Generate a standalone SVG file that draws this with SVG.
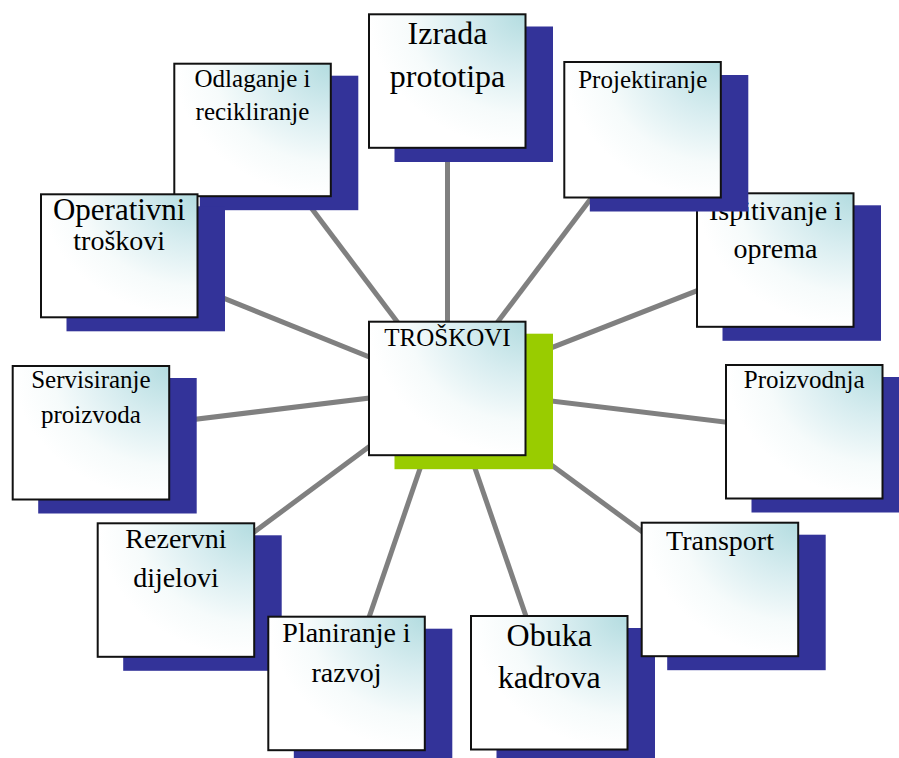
<svg xmlns="http://www.w3.org/2000/svg" width="899" height="758" viewBox="0 0 899 758">
<defs>
<radialGradient id="g" cx="1" cy="0" r="1">
<stop offset="0" stop-color="#b3dce0"/>
<stop offset="0.4" stop-color="#d8edf0"/>
<stop offset="0.75" stop-color="#f6fbfb"/>
<stop offset="1" stop-color="#ffffff"/>
</radialGradient>
</defs>
<style>
.sh{fill:#333399}
.shg{fill:#99cc00}
.bx{fill:url(#g);stroke:#111;stroke-width:2}
.t{font-family:'Liberation Serif',Tinos,'Times New Roman',Times,'DejaVu Serif',serif;fill:#000;text-anchor:middle}
.f25{font-size:25px}
.f28{font-size:28px}
.f31{font-size:31px}
.f32{font-size:32px}
#connectors line{stroke:#808080;stroke-width:5}
</style>
<rect width="899" height="758" fill="#fff"/>
<g id="connectors">
<line x1="447.5" y1="388.5" x2="447.5" y2="81"/>
<line x1="447.5" y1="388.5" x2="643" y2="129.5"/>
<line x1="447.5" y1="388.5" x2="775.5" y2="260"/>
<line x1="447.5" y1="388.5" x2="804" y2="431.5"/>
<line x1="447.5" y1="388.5" x2="720" y2="589"/>
<line x1="447.5" y1="388.5" x2="549" y2="683"/>
<line x1="447.5" y1="388.5" x2="346.5" y2="683"/>
<line x1="447.5" y1="388.5" x2="176" y2="590"/>
<line x1="447.5" y1="388.5" x2="91" y2="432"/>
<line x1="447.5" y1="388.5" x2="119" y2="256"/>
<line x1="447.5" y1="388.5" x2="252.5" y2="130"/>
</g>
<g id="node-izrada">
<rect class="sh" x="394.5" y="26.5" width="158.5" height="135.5"/>
<rect class="bx" x="369" y="14.3" width="156.5" height="133.5"/>
<text class="t f32" x="447.5" y="44.3" font-family="Liberation Serif, serif">Izrada</text>
<text class="t f32" x="447.5" y="86.7" font-family="Liberation Serif, serif">prototipa</text>
</g>
<g id="node-ispitivanje">
<rect class="sh" x="722.5" y="205.3" width="158.5" height="135.5"/>
<rect class="bx" x="697" y="193.3" width="156.5" height="133.5"/>
<text class="t f28" x="775.5" y="220">Ispitivanje i</text>
<text class="t f28" x="775.5" y="257.7">oprema</text>
</g>
<g id="node-projektiranje">
<rect class="sh" x="589.8" y="75" width="158.5" height="136.5"/>
<rect class="bx" x="564.3" y="62" width="156.5" height="135.5"/>
<text class="t f25" x="642.8" y="87.7">Projektiranje</text>
</g>
<g id="node-proizvodnja">
<rect class="sh" x="751.5" y="377" width="158.5" height="135.5"/>
<rect class="bx" x="726" y="365" width="156.5" height="133.5"/>
<text class="t f25" x="804.2" y="388.3">Proizvodnja</text>
</g>
<g id="node-obuka">
<rect class="sh" x="496.5" y="628" width="158.5" height="135.5"/>
<rect class="bx" x="471" y="616" width="156.5" height="133.5"/>
<text class="t f32" x="549.2" y="645.7">Obuka</text>
<text class="t f32" x="549.2" y="688.3">kadrova</text>
</g>
<g id="node-transport">
<rect class="sh" x="667.2" y="534.7" width="158.5" height="135.5"/>
<rect class="bx" x="641.7" y="522.7" width="156.5" height="133.5"/>
<text class="t f28" x="720" y="550">Transport</text>
</g>
<g id="node-rezervni">
<rect class="sh" x="123.2" y="535.3" width="158.5" height="135.5"/>
<rect class="bx" x="97.7" y="523.3" width="156.5" height="133.5"/>
<text class="t f28" x="175.9" y="548.3">Rezervni</text>
<text class="t f28" x="175.9" y="586.7">dijelovi</text>
</g>
<g id="node-planiranje">
<rect class="sh" x="293.8" y="628.7" width="158.5" height="135.5"/>
<rect class="bx" x="268.3" y="616.7" width="156.5" height="133.5"/>
<text class="t f28" x="346.5" y="642.3">Planiranje i</text>
<text class="t f28" x="346.5" y="681.7">razvoj</text>
</g>
<g id="node-servisiranje">
<rect class="sh" x="38.2" y="378" width="158.5" height="135.5"/>
<rect class="bx" x="12.7" y="366" width="156.5" height="133.5"/>
<text class="t f25" x="90.9" y="388.3">Servisiranje</text>
<text class="t f25" x="90.9" y="422.7">proizvoda</text>
</g>
<g id="node-odlaganje">
<rect class="sh" x="199.8" y="75.7" width="158.5" height="134.5"/>
<rect class="bx" x="174.3" y="63.7" width="156.5" height="132.5"/>
<text class="t f25" x="252.5" y="86.7">Odlaganje i</text>
<text class="t f25" x="252.5" y="120">recikliranje</text>
</g>
<g id="node-operativni">
<rect class="sh" x="66.5" y="206.3" width="158.5" height="125"/>
<rect class="bx" x="41" y="194.3" width="156.5" height="123"/>
<text class="t f31" x="119.2" y="220">Operativni</text>
<text class="t f28" x="119.2" y="250">troškovi</text>
</g>
<g id="node-troskovi">
<rect class="shg" x="394.5" y="333.7" width="158.5" height="135.5"/>
<rect class="bx" x="369" y="321.7" width="156.5" height="133.5"/>
<text class="t f25" x="447.5" y="345.7">TROŠKOVI</text>
</g>
</svg>
